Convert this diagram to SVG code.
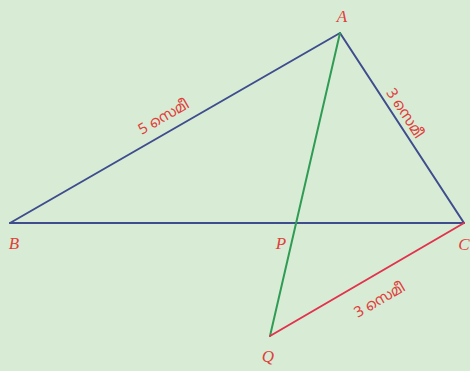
<svg xmlns="http://www.w3.org/2000/svg" width="470" height="371" viewBox="0 0 470 371">
<style>
.bg{fill:#d8ecd5}
.blue{stroke:#3f4c8e;stroke-width:2;fill:none;stroke-linecap:round}
.green{stroke:#2f9c55;stroke-width:2;fill:none;stroke-linecap:round}
.red{stroke:#e2324e;stroke-width:2;fill:none;stroke-linecap:round}
.pt{font-family:"Liberation Serif",serif;font-style:italic;font-size:17px;fill:#e0403c}
.len{font-family:"Noto Sans","Noto Sans Malayalam","DejaVu Sans",sans-serif;font-size:15px;fill:#e0403c}
</style>
<rect class="bg" x="0" y="0" width="470" height="371"/>
<g id="connectors">
<line class="blue" x1="10" y1="223" x2="340" y2="33"/>
<line class="blue" x1="340" y1="33" x2="464" y2="223"/>
<line class="blue" x1="10" y1="223" x2="464" y2="223"/>
<line class="green" x1="340" y1="33" x2="270" y2="336"/>
<line class="red" x1="270" y1="336" x2="464" y2="223"/>
</g>
<g id="A"><text class="pt" x="342" y="22" text-anchor="middle">A</text></g>
<g id="B"><text class="pt" x="14" y="249" text-anchor="middle">B</text></g>
<g id="C"><text class="pt" x="464" y="250" text-anchor="middle">C</text></g>
<g id="P"><text class="pt" x="281" y="249" text-anchor="middle">P</text></g>
<g id="Q"><text class="pt" x="268" y="362" text-anchor="middle">Q</text></g>
<g id="labels">
<text class="len" text-anchor="middle" transform="translate(166,121) rotate(-30)">5 സെമീ</text>
<text class="len" text-anchor="middle" transform="translate(401,116) rotate(57)">3 സെമീ</text>
<text class="len" text-anchor="middle" transform="translate(382,304) rotate(-30)">3 സെമീ</text>
</g>
</svg>
